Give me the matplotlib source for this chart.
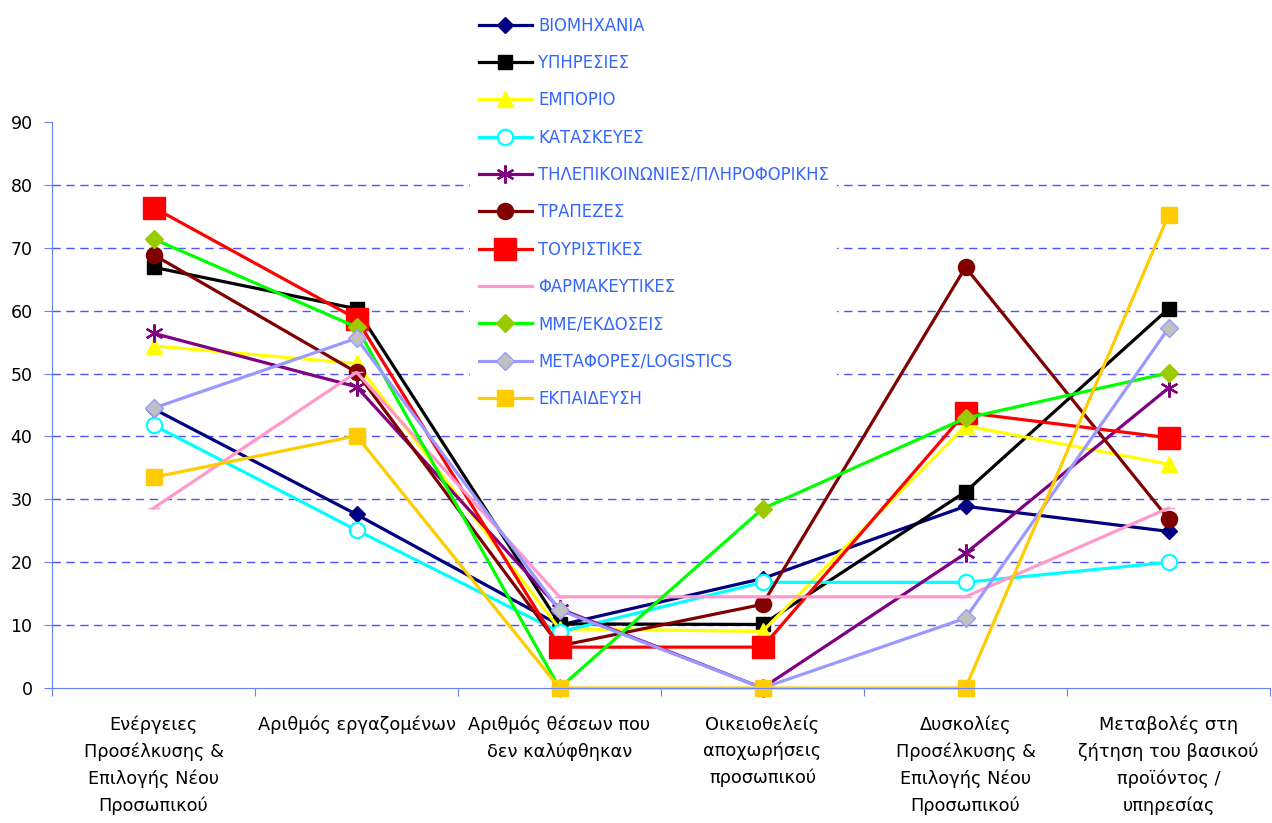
import matplotlib.pyplot as plt

categories = ['Ενέργειες\nΠροσέλκυσης &\nΕπιλογής Νέου\nΠροσωπικού',
              'Αριθμός εργαζομένων',
              'Αριθμός θέσεων που\nδεν καλύφθηκαν',
              'Οικειοθελείς\nαποχωρήσεις\nπροσωπικού',
              'Δυσκολίες\nΠροσέλκυσης &\nΕπιλογής Νέου\nΠροσωπικού',
              'Μεταβολές στη\nζήτηση του βασικού\nπροϊόντος /\nυπηρεσίας']

viomichania = [44.4, 27.6, 10.0, 17.4, 28.9, 24.9]
ypiresies = [66.9, 60.3, 10.2, 10.1, 31.2, 60.3]
emporio = [54.4, 51.6, 9.4, 9.0, 41.7, 35.6]
kataskeves = [41.8, 25.1, 8.9, 16.8, 16.8, 20.0]
tilepik = [56.4, 47.9, 12.6, 0.0, 21.4, 47.7]
trapezes = [68.9, 50.2, 6.7, 13.3, 66.9, 26.9]
touristikes = [76.4, 58.7, 6.5, 6.5, 43.8, 39.8]
farmakeftikes = [28.6, 50.2, 14.5, 14.5, 14.5, 28.6]
mme = [71.4, 57.4, 0.0, 28.5, 42.9, 50.1]
metafores = [44.5, 55.6, 12.4, 0.0, 11.1, 57.2]
ekpaidefsi = [33.5, 40.1, 0.0, 0.0, 0.0, 75.2]

names = ['ΒΙΟΜΗΧΑΝΙΑ', 'ΥΠΗΡΕΣΙΕΣ', 'ΕΜΠΟΡΙΟ', 'ΚΑΤΑΣΚΕΥΕΣ',
         'ΤΗΛΕΠΙΚΟΙΝΩΝΙΕΣ/ΠΛΗΡΟΦΟΡΙΚΗΣ', 'ΤΡΑΠΕΖΕΣ', 'ΤΟΥΡΙΣΤΙΚΕΣ',
         'ΦΑΡΜΑΚΕΥΤΙΚΕΣ', 'ΜΜΕ/ΕΚΔΟΣΕΙΣ', 'ΜΕΤΑΦΟΡΕΣ/LOGISTICS', 'ΕΚΠΑΙΔΕΥΣΗ']
series = [viomichania, ypiresies, emporio, kataskeves, tilepik, trapezes,
          touristikes, farmakeftikes, mme, metafores, ekpaidefsi]

# line colour, marker, marker size, marker face, marker edge
styles = [
    ('#000080', 'D', 8, '#000080', '#000080'),
    ('#000000', 's', 10, '#000000', '#000000'),
    ('#FFFF00', '^', 11, '#FFFF00', '#FFFF00'),
    ('#00FFFF', 'o', 11, 'white', '#00FFFF'),
    ('#800080', (6, 2, 0), 13, '#800080', '#800080'),
    ('#800000', 'o', 11, '#800000', '#800000'),
    ('#FF0000', 's', 16, '#FF0000', '#FF0000'),
    ('#FF99CC', '_', 8, '#FF99CC', '#FF99CC'),
    ('#00FF00', 'D', 9, '#99CC00', '#99CC00'),
    ('#9999FF', 'D', 9, '#C0C0C0', '#9999FF'),
    ('#FFCC00', 's', 11, '#FFCC00', '#FFCC00'),
]

fig = plt.figure(figsize=(12.72, 8.23), dpi=100)
ax = fig.add_axes([52 / 1272, 1 - 688 / 823, 1218 / 1272, 566 / 823])

x = range(len(categories))
handles = []
for name, vals, st in zip(names, series, styles):
    col, mk, ms, fc, ec = st
    mew = 1.6 if mk in ('o', (6, 2, 0)) else 1.0
    h, = ax.plot(x, vals, color=col, lw=2.3, marker=mk, markersize=ms,
                 markerfacecolor=fc, markeredgecolor=ec, markeredgewidth=mew,
                 label=name, clip_on=False)
    handles.append(h)

ax.set_xlim(-0.5, 5.5)
ax.set_ylim(0, 90)
ax.set_yticks(range(0, 100, 10))
for v in range(10, 90, 10):
    ax.axhline(v, color='#3333FF', lw=1, ls=(0, (6, 4)), zorder=0, alpha=0.85)

ax.set_xticks([i - 0.5 for i in range(7)])
ax.set_xticklabels([])
ax.set_xticks(list(x), minor=True)
ax.set_xticklabels(categories, minor=True, fontsize=12.8, linespacing=1.57)
ax.tick_params(axis='x', which='minor', length=0, pad=20)
ax.tick_params(axis='x', which='major', length=6, color='#6680FF')
ax.tick_params(axis='y', length=6, color='#6680FF', labelsize=12.5, pad=8)

for s in ['top', 'right']:
    ax.spines[s].set_visible(False)
ax.spines['left'].set_color('#6680FF')
ax.spines['bottom'].set_color('#6680FF')

leg = fig.legend(handles=handles, loc='upper left',
                 bbox_to_anchor=(462 / 1272, 1.0), fontsize=11.9,
                 frameon=True, facecolor='white', edgecolor='none',
                 framealpha=1, handlelength=3.25, labelspacing=1.17,
                 borderpad=0.5, handletextpad=0.35)
for t in leg.get_texts():
    t.set_color('#3366FF')
leg.set_zorder(5)

plt.savefig('out.png', dpi=100)
